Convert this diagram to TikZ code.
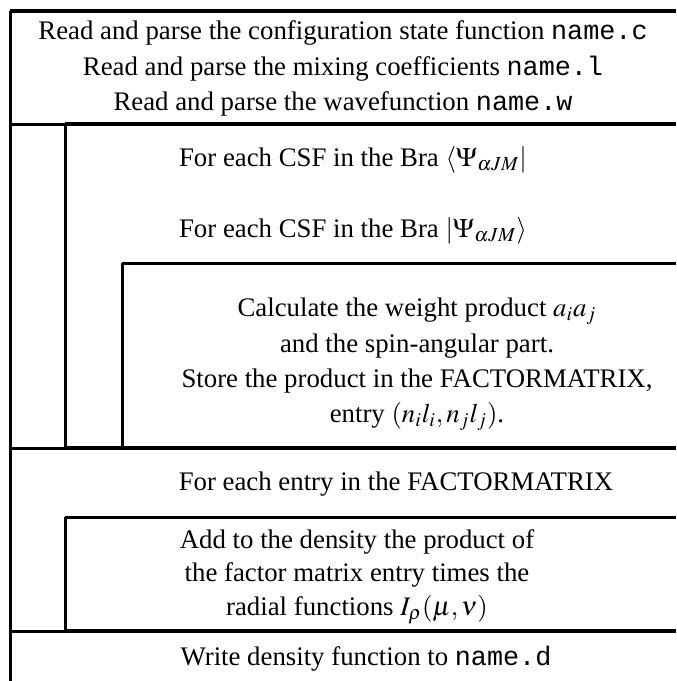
\documentclass[tikz,border=0pt]{standalone}
\usepackage{mathptmx}
\usepackage[no-math]{fontspec}
\setmainfont{Liberation Serif}
\setmonofont{Liberation Mono}
\usepackage{amsmath}
\usepackage{tikz}

\tikzset{
	rule/.style={line width=1.5pt},
	heavyrule/.style={line width=2.3pt},
	txt/.style={anchor=base, inner sep=0pt, font=\fontsize{13.4}{16}\selectfont}
}

\begin{document}
\begin{tikzpicture}[x=0.5pt, y=-0.5pt]
	\useasboundingbox (0,0) rectangle (676,681);

	% frame and block separators
	\draw[heavyrule] (10,11) -- (676,11);
	\draw[rule] (10,11) -- (10,681);
	\draw[rule] (10,124) -- (65,124);
	\draw[heavyrule] (65,124) -- (676,124);
	\draw[rule] (65,124) -- (65,448);
	\draw[rule] (122,263) -- (676,263);
	\draw[rule] (122,263) -- (122,448);
	\draw[rule] (10,448) -- (65,448);
	\draw[heavyrule] (65,448) -- (676,448);
	\draw[rule] (65,517) -- (676,517);
	\draw[rule] (65,517) -- (65,631);
	\draw[rule] (10,631) -- (65,631);
	\draw[heavyrule] (65,631) -- (676,631);

	% header
	\node[txt] (readc) at (343, 39)  {Read and parse the configuration state function \texttt{name.c}};
	\node[txt] (readl) at (343, 75)  {Read and parse the mixing coefficients \texttt{name.l}};
	\node[txt] (readw) at (343, 110) {Read and parse the wavefunction \texttt{name.w}};

	% loops over the CSFs
	\node[txt] (bra) at (353, 166) {For each CSF in the Bra $\langle\Psi_{\alpha JM}|$};
	\node[txt] (ket) at (353, 237) {For each CSF in the Bra $|\Psi_{\alpha JM}\rangle$};

	\node[txt] (calca) at (417, 316) {Calculate the weight product $a_ia_j$};
	\node[txt] (calcb) at (417, 352) {and the spin-angular part.};
	\node[txt] (calcc) at (417, 387) {Store the product in the FACTORMATRIX,};
	\node[txt] (calcd) at (417, 422) {entry $(n_il_i, n_jl_j)$.};

	% loop over the factor matrix
	\node[txt] (entry) at (396, 490) {For each entry in the FACTORMATRIX};
	\node[txt] (adda) at (357, 548) {Add to the density the product of};
	\node[txt] (addb) at (357, 581) {the factor matrix entry times the};
	\node[txt] (addc) at (357, 615) {radial functions $I_\rho(\mu, \nu)$};

	\node[txt] (write) at (366, 665) {Write density function to \texttt{name.d}};
\end{tikzpicture}
\end{document}
